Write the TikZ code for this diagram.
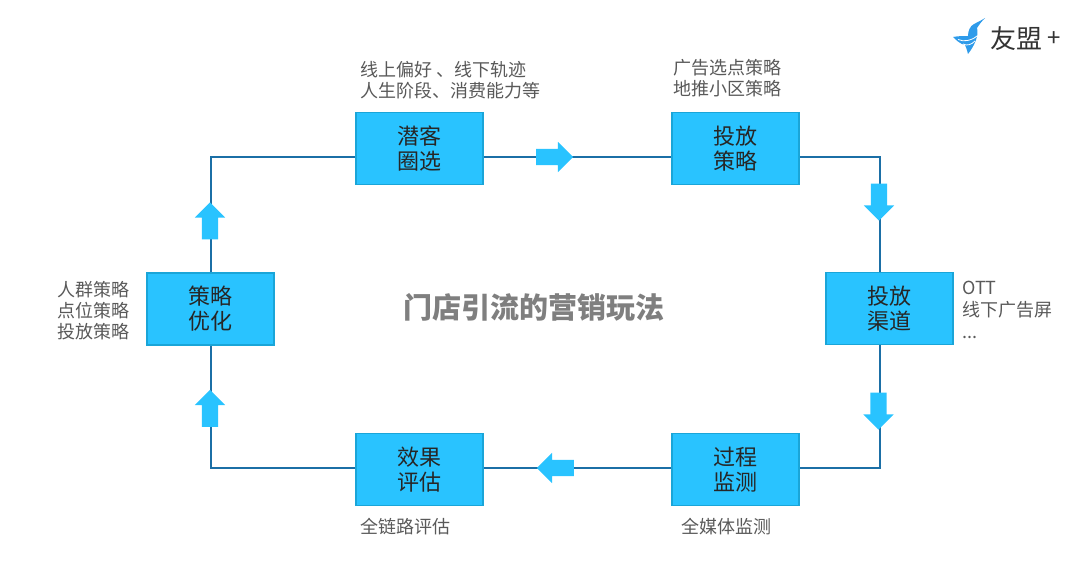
\documentclass[tikz,border=0pt]{standalone}
\usepackage{fontspec}
\usepackage{xcolor}
\usetikzlibrary{shapes.arrows}
\setmainfont{Noto Sans CJK SC}
\definecolor{boxfill}{HTML}{29C3FF}
\definecolor{boxline}{HTML}{1AA5D8}
\definecolor{link}{HTML}{1B6FA6}
\definecolor{note}{HTML}{595959}
\definecolor{head}{HTML}{7F7F7F}
\definecolor{brand}{HTML}{333333}
\definecolor{bird}{HTML}{2E9BEA}
\tikzset{
  stage/.style={draw=boxline, fill=boxfill, line width=1.5pt, minimum width=127pt, minimum height=72pt,
    inner sep=0pt, align=center, text=black!85, font=\fontsize{22}{25}\selectfont},
  conn/.style={draw=link, line width=2pt},
  flow/.style={single arrow, fill=boxfill, minimum height=37pt, minimum width=30pt, inner sep=8pt,
    single arrow head extend=7pt, single arrow head indent=0pt, anchor=center},
  lab/.style={text=note, inner sep=0pt, align=left, font=\fontsize{18}{21}\selectfont},
  labw/.style={lab, font=\fontsize{18}{22}\selectfont},
}
\begin{document}
\begin{tikzpicture}[x=1pt,y=-1pt]
  \useasboundingbox (0,0) rectangle (1083,588);
  % stages
  \node[stage] (target) at (419.5,148.5) {潜客\\圈选};
  \node[stage] (plan) at (735.5,148.5) {投放\\策略};
  \node[stage] (channel) at (889.5,308.5) {投放\\渠道};
  \node[stage] (monitor) at (735.5,469.5) {过程\\监测};
  \node[stage] (review) at (419.5,469.5) {效果\\评估};
  \node[stage] (tune) at (210.5,309) {策略\\优化};
  % links
  \draw[conn] ([yshift=-8.5pt]target.east) -- ([yshift=-8.5pt]plan.west);
  \draw[conn] ([yshift=-8.5pt]plan.east) -| ([xshift=-9.5pt]channel.north);
  \draw[conn] ([xshift=-9.5pt]channel.south) |- ([yshift=1.5pt]monitor.east);
  \draw[conn] ([yshift=1.5pt]monitor.west) -- ([yshift=1.5pt]review.east);
  \draw[conn] ([yshift=1.5pt]review.west) -| (tune.south);
  \draw[conn] (tune.north) |- ([yshift=-8.5pt]target.west);
  % block arrows
  \node[flow] (arrowa) at (550.5,157) {};
  \node[flow, shape border rotate=270] (arrowb) at (879,198) {};
  \node[flow, shape border rotate=270] (arrowc) at (878.5,407) {};
  \node[flow, shape border rotate=180] (arrowd) at (559.5,468) {};
  \node[flow, shape border rotate=90] (arrowe) at (210,412.5) {};
  \node[flow, shape border rotate=90] (arrowf) at (210,225) {};
  % notes
  \node[lab, anchor=west] (notea) at (360,80) {线上偏好 、线下轨迹\\人生阶段、消费能力等};
  \node[lab, anchor=center, align=center] (noteb) at (727,78) {广告选点策略\\地推小区策略};
  \node[labw, anchor=west] (notec) at (962,310) {OTT\\线下广告屏\\...};
  \node[lab, anchor=west] (noted) at (681,527) {全媒体监测};
  \node[lab, anchor=west] (notee) at (360,527) {全链路评估};
  \node[lab, anchor=east, align=right] (notef) at (130,311) {人群策略\\点位策略\\投放策略};
  \node[text=head, font=\fontsize{29}{32}\selectfont\bfseries, inner sep=0pt] (title) at (533.5,307) {门店引流的营销玩法};
  % logo
  \fill[bird] (985,18) .. controls (981,22) and (979,25) .. (977,28) .. controls (979,35) and (975,45) .. (968,54)
    .. controls (967,50) and (966,47) .. (965,45) .. controls (960,44) and (956,40) .. (953,37)
    .. controls (958,36) and (964,36) .. (968,36) .. controls (968,31) and (970,26) .. (974,24)
    .. controls (978,22) and (982,20) .. cycle;
  \draw[white, line width=0.8pt] (958,39.5) .. controls (964,42) and (971,41) .. (977,36);
  \draw[white, line width=0.8pt] (963,44) .. controls (967,46) and (971,45) .. (975,41);
  \node[text=brand, font=\fontsize{26}{28}\selectfont, inner sep=0pt] (brandname) at (1016.5,39) {友盟};
  \node[text=brand, font=\fontsize{24}{26}\selectfont, inner sep=0pt] (brandplus) at (1054.5,39) {+};
\end{tikzpicture}
\end{document}
